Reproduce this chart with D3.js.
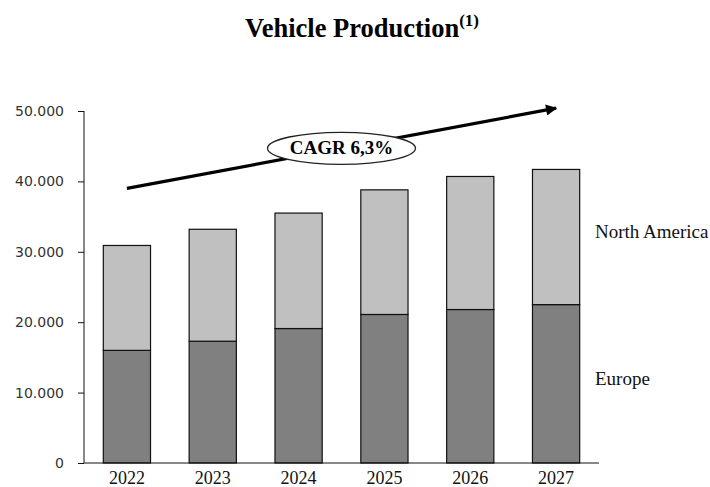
<!DOCTYPE html>
<html><head><meta charset="utf-8">
<script src="https://cdn.jsdelivr.net/npm/d3@7"></script>
<style>body{margin:0;background:#fff}svg{display:block}</style>
</head><body><svg id="c" width="710" height="487"></svg>
<script>
const years = ["2022","2023","2024","2025","2026","2027"];
const europe = [16000, 17300, 19100, 21100, 21800, 22500];
const northAmerica = [14900, 15900, 16400, 17700, 18900, 19200];
const yTicks = [0, 10000, 20000, 30000, 40000, 50000];
const seriesNames = ["Europe", "North America"];
const cagrLabel = "CAGR 6,3%";
const trendStart = 39000, trendEnd = 50400;

const svg = d3.select("#c");
const m = {left: 84, right: 599, top: 111, bottom: 463};
const x = d3.scaleBand().domain(years).range([m.left, m.right]).paddingInner(0.45).paddingOuter(0.225);
const y = d3.scaleLinear().domain([0, 50000]).range([m.bottom, m.top]);

// title
const t = svg.append("text").attr("x", 362).attr("y", 37).attr("text-anchor", "middle")
  .style("font-family", "'Liberation Serif', 'Times New Roman', serif").style("font-weight", "bold").style("font-size", "26.5px");
t.append("tspan").text("Vehicle Production");
t.append("tspan").attr("dy", -11).style("font-size", "17px").text("(1)");

// stacked data
const data = years.map((yr, i) => ({year: yr, Europe: europe[i], "North America": northAmerica[i]}));
const stack = d3.stack().keys(seriesNames)(data);
const colors = {"Europe": "#808080", "North America": "#c0c0c0"};

svg.append("g").selectAll("g").data(stack).join("g").attr("fill", d => colors[d.key])
  .selectAll("rect").data(d => d).join("rect")
  .attr("x", d => x(d.data.year)).attr("width", x.bandwidth())
  .attr("y", d => y(d[1])).attr("height", d => y(d[0]) - y(d[1]))
  .attr("stroke", "#111").attr("stroke-width", 1.2);

// y axis
const ya = svg.append("g").attr("transform", `translate(${m.left},0)`)
  .call(d3.axisLeft(y).tickValues(yTicks).tickSize(6).tickPadding(14)
    .tickFormat(d => d3.format(",")(d).replace(/,/g, ".")));
ya.select(".domain").attr("stroke", "#111").attr("d", `M0,${m.top}V${m.bottom}`);
ya.selectAll(".tick line").attr("stroke", "#111");
ya.selectAll("text").style("font-family", "'DejaVu Sans', sans-serif").style("font-size", "14px").attr("fill", "#333");

// x axis
const xa = svg.append("g").attr("transform", `translate(0,${m.bottom})`)
  .call(d3.axisBottom(x).tickSize(0).tickPadding(8));
xa.select(".domain").attr("stroke", "#111").attr("d", `M${m.left},0H${m.right}`);
xa.selectAll("text").style("font-family", "'Liberation Serif', 'Times New Roman', serif").style("font-size", "18px").attr("fill", "#111");

// series labels
const lastNA = stack[1][years.length - 1];
const lastEU = stack[0][years.length - 1];
svg.append("text").attr("x", 595).attr("y", (y(lastNA[0]) + y(lastNA[1])) / 2 + 1)
  .style("font-family", "'Liberation Serif', serif").style("font-size", "19px").attr("fill", "#111").text("North America");
svg.append("text").attr("x", 595).attr("y", (y(lastEU[0]) + y(lastEU[1])) / 2 + 1)
  .style("font-family", "'Liberation Serif', serif").style("font-size", "19px").attr("fill", "#111").text("Europe");

// trend arrow
const x0 = x(years[0]) + x.bandwidth() / 2, y0 = y(trendStart);
const x1 = x(years[years.length - 1]) + x.bandwidth() / 2, y1 = y(trendEnd);
const defs = svg.append("defs");
defs.append("marker").attr("id", "ah").attr("viewBox", "0 0 10 10").attr("refX", 9).attr("refY", 5)
  .attr("markerWidth", 4).attr("markerHeight", 3.5).attr("orient", "auto").attr("markerUnits", "strokeWidth")
  .append("path").attr("d", "M0,0L10,5L0,10z").attr("fill", "#000");
svg.append("line").attr("x1", x0).attr("y1", y0).attr("x2", x1).attr("y2", y1)
  .attr("stroke", "#000").attr("stroke-width", 3.2).attr("marker-end", "url(#ah)");

// CAGR ellipse
const cx = (x(years[2]) + x(years[3]) + x.bandwidth()) / 2;
const cy = y0 + (y1 - y0) * (cx - x0) / (x1 - x0);
svg.append("ellipse").attr("cx", cx).attr("cy", cy).attr("rx", 74).attr("ry", 16)
  .attr("fill", "#fff").attr("stroke", "#222").attr("stroke-width", 1.3);
svg.append("text").attr("x", cx).attr("y", cy + 6).attr("text-anchor", "middle")
  .style("font-family", "'Liberation Serif', serif").style("font-weight", "bold").style("font-size", "19px").text(cagrLabel);
</script></body></html>
